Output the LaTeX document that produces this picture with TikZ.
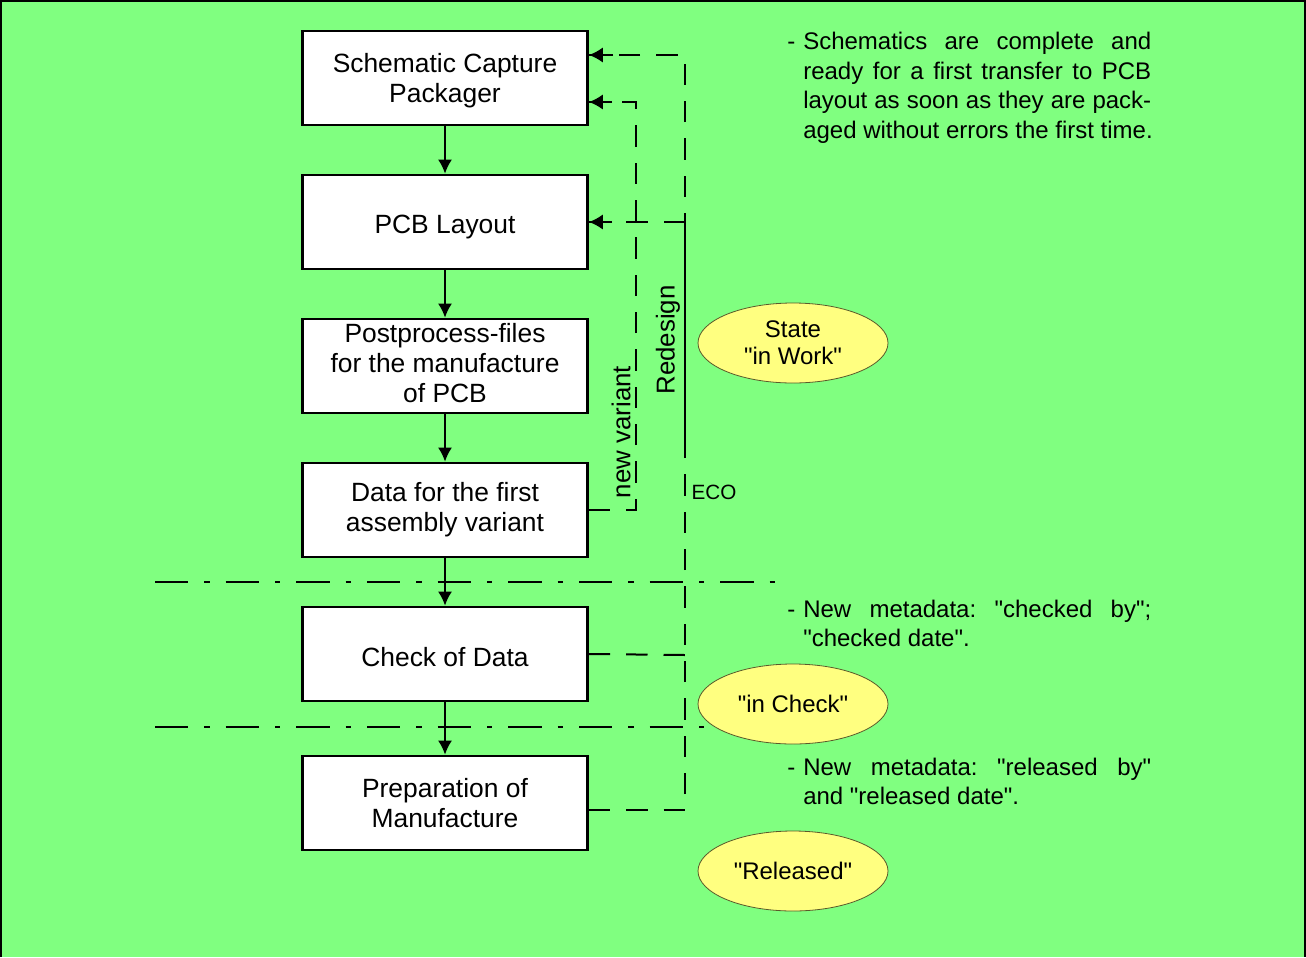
\documentclass[tikz,border=0pt]{standalone}
\usepackage{fontspec}
\setmainfont{Liberation Sans}[Ligatures=TeXOff]
\usetikzlibrary{arrows.meta,shapes.geometric}
\definecolor{bggreen}{HTML}{80FF80}
\definecolor{ellyellow}{HTML}{FFFF80}
\definecolor{ellborder}{HTML}{5A5A2A}
\frenchspacing
\begin{document}
\begin{tikzpicture}[x=0.75pt,y=-0.75pt,
  box/.style={draw=black, line width=2pt, fill=white, minimum width=213.75pt, minimum height=70.5pt, inner sep=0pt, align=center, font=\fontsize{19.8}{22.5}\selectfont},
  flow/.style={line width=1.5pt, -{Latex[length=10.5pt,width=10.5pt]}},
  dsh/.style={line width=1.5pt, dash pattern=on 16pt off 12pt},
  tipline/.style={line width=1.5pt, solid, -{Latex[length=10.5pt,width=11.5pt]}},
  dashdot/.style={line width=1.5pt, dash pattern=on 25pt off 12pt on 4pt off 12pt},
  state/.style={ellipse, draw=ellborder, line width=0.6pt, fill=ellyellow, minimum width=142.5pt, minimum height=60pt, inner sep=0pt, align=center, font=\fontsize{18}{20.25}\selectfont},
  note/.style={anchor=north west, inner sep=0pt, align=left, font=\fontsize{18}{22.1}\selectfont},
  side/.style={font=\fontsize{19.4}{22}\selectfont, rotate=90, inner sep=0pt}
]
\fill[bggreen] (0,0) rectangle (1306,957);
\useasboundingbox (0,0) rectangle (1306,957);
\draw[line width=1.5pt] (1,957) -- (1,1) -- (1305,1) -- (1305,957);

% separator lines (behind everything)
\coordinate (dd1a) at (155,582);
\coordinate (dd1b) at (780,582);
\coordinate (dd2a) at (155,727);
\coordinate (dd2b) at (760,727);
\draw[dashdot] (dd1a) -- (dd1b);
\draw[dashdot] (dd2a) -- (dd2b);

% boxes
\node[box] (b1) at (445,78) {\rule{0pt}{19pt}Schematic Capture\\Packager};
\node[box, text height=17.2pt, text depth=0pt] (b2) at (445,222) {PCB Layout};
\node[box] (b3) at (445,366) {Postprocess-files\\for the manufacture\\of PCB\rule[-4.5pt]{0pt}{0pt}};
\node[box] (b4) at (445,510) {Data for the first\\assembly variant};
\node[box, text height=19pt, text depth=0pt] (b5) at (445,654) {Check of Data};
\node[box] (b6) at (445,803) {Preparation of\\Manufacture};

\draw[flow] (b1) -- (b2);
\draw[flow] (b2) -- (b3);
\draw[flow] (b3) -- (b4);
\draw[flow] (b4) -- (b5);
\draw[flow] (b5) -- (b6);

% feedback lines
\coordinate (oTop) at (685,55);
\coordinate (oBot) at (685,810);
\coordinate (oPcb) at (685,222);
\coordinate (oChk) at (685,655);
\coordinate (oSolid) at (685,455);
\coordinate (iTop) at (636,102);
\coordinate (iBot) at (636,510);
\coordinate (aTop) at (613,55);
\coordinate (aPcb) at (612,222);
\coordinate (aIn) at (612,102);

\draw[dsh] (b6.east |- oBot) -- (oBot) -- (oTop) -- (b1.east |- oTop);
\draw[dsh] (oPcb) -- (b2.east);
\draw[dsh] (b5.east) -- (oChk);
\draw[line width=1.5pt] (oPcb) -- (oSolid);
\draw[dsh] (b4.east) -- (iBot) -- (iTop) -- (b1.east |- iTop);
\draw[tipline] (aTop) -- (b1.east |- aTop);
\draw[tipline] (aIn) -- (b1.east |- aIn);
\draw[tipline] (aPcb) -- (b2.east);

\node[side] (nv) at (621,432) {new variant};
\node[side] (rd) at (668,340) {Redesign};
\node[font=\fontsize{15.5}{18}\selectfont, inner sep=0pt] (eco) at (714,492) {ECO};

% states
\node[state] (s1) at (793,343) {State\\"in Work"};
\node[state] (s2) at (793,704) {"in Check"};
\node[state] (s3) at (793,871) {"Released"};

% notes
\node[note] (n1) at (787,32) {\makebox[12pt][l]{-}\makebox[261pt][s]{Schematics are complete and}\\
\hspace*{12pt}\makebox[261pt][s]{ready for a first transfer to PCB}\\
\hspace*{12pt}\makebox[261pt][s]{layout as soon as they are pack-}\\
\hspace*{12pt}aged without errors the first time.};
\node[note] (n2) at (787,599.5) {\makebox[12pt][l]{-}\makebox[261pt][s]{New metadata: "checked by";}\\
\hspace*{12pt}"checked date".};
\node[note] (n3) at (787,757.5) {\makebox[12pt][l]{-}\makebox[261pt][s]{New metadata: "released by"}\\
\hspace*{12pt}and "released date".};
\end{tikzpicture}
\end{document}
